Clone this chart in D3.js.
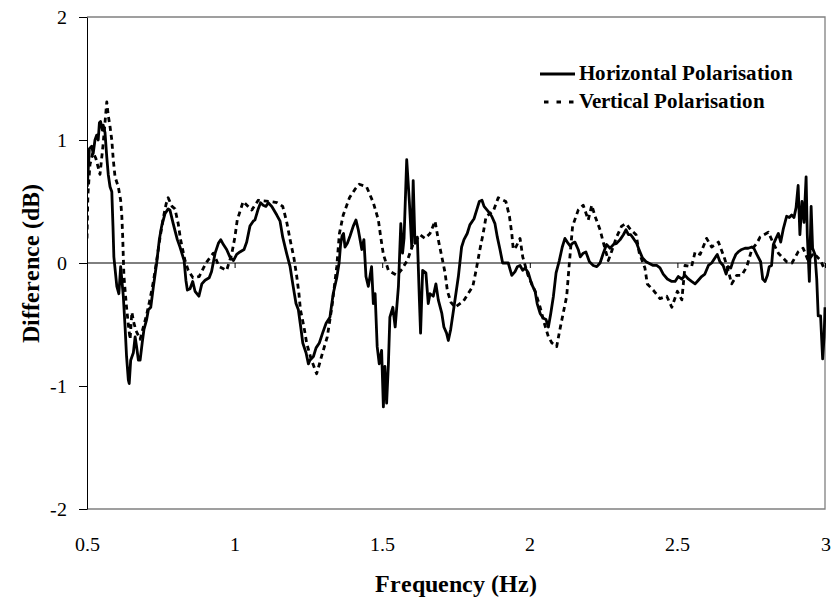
<!DOCTYPE html>
<html>
<head>
<meta charset="utf-8">
<script src="https://cdn.jsdelivr.net/npm/d3@7"></script>
<style>
  @font-face { font-family: "ChartSerif"; src: local("Liberation Serif"), local("LiberationSerif"), local("Times New Roman"); font-weight: 400; font-display: swap; }
  @font-face { font-family: "ChartSerif"; src: local("Liberation Serif Bold"), local("LiberationSerif-Bold"), local("Times New Roman Bold"); font-weight: 700; font-display: swap; }
  html, body { margin: 0; padding: 0; background: #fff; }
  svg { display: block; }
</style>
</head>
<body>
<svg id="chart" width="833" height="600"></svg>
<script>
// Frequency (Hz) and level difference (dB), horizontal polarisation
const freqH = [0.501,0.508,0.516,0.521,0.527,0.533,0.538,0.542,0.546,0.552,0.555,0.561,0.567,0.572,0.578,0.584,0.588,0.591,
  0.601,0.608,0.614,0.623,0.629,0.634,0.640,0.643,0.648,0.657,0.663,0.668,0.674,0.680,0.687,0.693,0.702,0.708,0.716,0.725,
  0.736,0.745,0.753,0.764,0.775,0.781,0.792,0.806,0.815,0.829,0.835,0.840,0.849,0.858,0.866,0.879,0.889,0.900,0.914,0.922,
  0.934,0.945,0.953,0.962,0.973,0.984,0.996,1.007,1.018,1.032,1.041,1.052,1.063,1.069,1.080,1.088,1.097,1.106,1.114,1.126,
  1.143,1.154,1.163,1.176,1.188,1.197,1.208,1.216,1.224,1.231,1.242,1.250,1.255,1.267,1.276,1.287,1.298,1.310,1.323,1.334,
  1.346,1.354,1.359,1.364,1.369,1.374,1.382,1.391,1.402,1.411,1.419,1.431,1.438,1.445,1.453,1.464,1.470,1.476,1.483,1.490,
  1.498,1.504,1.509,1.515,1.521,1.526,1.536,1.544,1.555,1.563,1.569,1.574,1.583,1.592,1.600,1.605,1.611,1.619,1.626,1.630,
  1.637,1.648,1.656,1.662,1.673,1.682,1.690,1.702,1.709,1.718,1.724,1.732,1.743,1.758,1.769,1.777,1.788,1.797,1.811,1.820,
  1.829,1.838,1.845,1.859,1.871,1.882,1.890,1.899,1.908,1.919,1.927,1.939,1.950,1.958,1.967,1.976,1.984,1.995,2.006,2.018,
  2.025,2.035,2.046,2.055,2.063,2.071,2.080,2.089,2.100,2.110,2.119,2.127,2.136,2.145,2.153,2.164,2.171,2.181,2.190,2.202,
  2.215,2.227,2.238,2.249,2.260,2.272,2.283,2.294,2.306,2.317,2.326,2.334,2.342,2.351,2.362,2.373,2.382,2.394,2.418,2.430,
  2.441,2.452,2.466,2.481,2.492,2.503,2.515,2.526,2.537,2.548,2.560,2.571,2.582,2.593,2.605,2.616,2.627,2.635,2.644,2.655,
  2.665,2.672,2.681,2.689,2.698,2.706,2.718,2.729,2.740,2.752,2.759,2.769,2.782,2.789,2.797,2.805,2.811,2.819,2.825,2.834,
  2.842,2.850,2.859,2.870,2.879,2.887,2.895,2.902,2.909,2.915,2.922,2.929,2.936,2.940,2.947,2.953,2.958,2.966,2.972,2.977,
  2.985,2.992,2.997,3.000];
const diffH = [0.62,0.93,0.95,0.89,1.00,1.04,1.00,1.14,1.15,1.08,1.12,1.06,0.86,0.72,0.62,0.58,0.30,0.05,
  -0.19,-0.25,-0.03,-0.27,-0.52,-0.76,-0.95,-0.98,-0.79,-0.73,-0.60,-0.68,-0.79,-0.79,-0.65,-0.54,-0.46,-0.38,-0.36,-0.19,
  0.00,0.19,0.30,0.40,0.44,0.43,0.32,0.19,0.13,0.02,-0.14,-0.22,-0.21,-0.15,-0.23,-0.27,-0.17,-0.14,-0.12,-0.07,
  0.08,0.16,0.19,0.15,0.11,0.05,0.02,0.07,0.09,0.11,0.17,0.30,0.34,0.35,0.44,0.49,0.47,0.46,0.49,0.46,
  0.39,0.34,0.21,0.08,-0.03,-0.17,-0.33,-0.38,-0.52,-0.65,-0.73,-0.82,-0.79,-0.76,-0.69,-0.65,-0.57,-0.49,-0.44,-0.25,
  -0.12,0.00,0.15,0.22,0.24,0.13,0.16,0.22,0.30,0.35,0.27,0.11,0.19,-0.11,-0.19,-0.03,-0.33,-0.25,-0.68,-0.82,
  -0.71,-1.17,-0.84,-1.14,-0.82,-0.44,-0.36,-0.52,-0.19,0.32,0.08,0.20,0.84,0.50,0.13,0.67,0.16,0.21,-0.30,-0.57,
  -0.06,-0.08,-0.33,-0.25,-0.27,-0.17,-0.30,-0.41,-0.52,-0.57,-0.63,-0.54,-0.36,-0.11,0.13,0.19,0.24,0.31,0.36,0.43,
  0.50,0.51,0.46,0.42,0.38,0.32,0.21,0.11,0.00,0.00,0.00,-0.10,-0.07,-0.03,-0.02,-0.06,-0.04,-0.08,-0.17,-0.23,
  -0.33,-0.41,-0.45,-0.46,-0.52,-0.41,-0.27,-0.08,0.02,0.13,0.20,0.17,0.14,0.16,0.17,0.11,0.05,0.08,0.09,0.01,
  -0.02,-0.03,0.00,0.08,0.15,0.12,0.15,0.16,0.19,0.23,0.27,0.23,0.23,0.20,0.16,0.09,0.04,0.01,-0.02,-0.02,
  -0.04,-0.09,-0.13,-0.15,-0.15,-0.11,-0.13,-0.10,-0.13,-0.15,-0.17,-0.14,-0.11,-0.09,-0.02,0.00,0.04,0.07,0.01,-0.02,
  -0.09,-0.03,-0.04,0.02,0.07,0.09,0.11,0.12,0.12,0.13,0.12,0.07,0.01,-0.13,-0.15,-0.10,-0.03,-0.02,0.15,0.20,
  0.24,0.17,0.28,0.38,0.37,0.39,0.37,0.45,0.63,0.23,0.50,0.33,0.70,0.23,-0.15,0.46,0.12,0.07,-0.13,-0.43,
  -0.43,-0.78,-0.60,-0.36];

// Frequency (Hz) and level difference (dB), vertical polarisation
const freqV = [0.500,0.503,0.510,0.520,0.530,0.544,0.554,0.567,0.572,0.578,0.584,0.589,0.595,0.606,0.614,0.618,0.621,0.623,
  0.625,0.630,0.634,0.640,0.646,0.652,0.658,0.666,0.680,0.691,0.702,0.713,0.725,0.736,0.747,0.757,0.768,0.775,0.788,0.798,
  0.809,0.817,0.832,0.843,0.859,0.880,0.903,0.928,0.948,0.973,0.990,1.001,1.009,1.029,1.058,1.080,1.120,1.144,1.163,1.176,
  1.188,1.201,1.210,1.218,1.223,1.235,1.244,1.259,1.278,1.298,1.314,1.330,1.346,1.355,1.368,1.389,1.408,1.422,1.447,1.470,
  1.487,1.495,1.504,1.521,1.549,1.567,1.585,1.604,1.628,1.645,1.662,1.679,1.690,1.702,1.713,1.721,1.733,1.747,1.775,1.807,
  1.818,1.831,1.842,1.852,1.876,1.893,1.919,1.931,1.939,1.944,1.953,1.967,1.976,1.994,2.018,2.035,2.048,2.063,2.075,2.091,
  2.102,2.113,2.125,2.130,2.134,2.145,2.164,2.181,2.198,2.210,2.221,2.238,2.251,2.266,2.278,2.292,2.311,2.326,2.342,2.360,
  2.371,2.390,2.398,2.418,2.441,2.464,2.481,2.500,2.515,2.526,2.548,2.560,2.577,2.599,2.616,2.639,2.658,2.671,2.684,2.701,
  2.718,2.735,2.752,2.769,2.780,2.808,2.825,2.842,2.870,2.888,2.909,2.926,2.943,2.962,2.985,3.000];
const diffV = [0.20,0.55,0.80,0.90,0.85,0.72,0.95,1.31,1.20,1.11,1.00,0.84,0.70,0.62,0.51,0.38,0.21,0.05,
  -0.10,-0.25,-0.36,-0.50,-0.62,-0.40,-0.48,-0.55,-0.62,-0.52,-0.42,-0.30,-0.15,0.02,0.20,0.35,0.48,0.53,0.46,0.44,
  0.32,0.19,0.02,-0.06,-0.12,-0.11,0.00,0.08,-0.03,-0.06,0.07,0.21,0.35,0.50,0.43,0.51,0.50,0.49,0.46,0.34,
  0.19,0.04,-0.10,-0.25,-0.38,-0.52,-0.65,-0.78,-0.90,-0.73,-0.60,-0.35,-0.03,0.24,0.39,0.53,0.60,0.64,0.62,0.49,
  0.35,0.21,0.07,-0.06,-0.10,-0.05,0.02,0.15,0.23,0.20,0.24,0.34,0.19,0.05,-0.08,-0.23,-0.32,-0.36,-0.31,-0.19,
  -0.06,0.11,0.24,0.38,0.42,0.53,0.50,0.38,0.24,0.11,0.13,0.20,0.05,-0.10,-0.23,-0.36,-0.48,-0.60,-0.65,-0.68,
  -0.54,-0.41,-0.27,-0.12,0.00,0.30,0.43,0.47,0.35,0.47,0.38,0.27,0.15,0.02,0.10,0.20,0.30,0.32,0.27,0.23,
  0.08,-0.04,-0.17,-0.22,-0.29,-0.27,-0.36,-0.23,-0.30,-0.02,-0.03,0.09,0.07,0.20,0.13,0.17,0.05,-0.05,-0.17,-0.10,
  -0.10,-0.03,0.11,0.16,0.21,0.25,0.16,0.08,0.01,0.00,0.09,0.12,0.02,0.08,0.02,-0.06];

const xTicks = [0.5, 1, 1.5, 2, 2.5, 3];
const yTicks = [-2, -1, 0, 1, 2];
const seriesNames = ["Horizontal Polarisation", "Vertical Polarisation"];

const FONT = "ChartSerif, 'Liberation Serif', 'Times New Roman', serif";
const svg = d3.select("#chart");
const plot = { left: 87, right: 825, top: 17, bottom: 509 };

const x = d3.scaleLinear().domain([0.5, 3]).range([plot.left, plot.right]);
const y = d3.scaleLinear().domain([-2, 2]).range([plot.bottom, plot.top]);

// Plot frame: grey top/right/bottom edges
svg.append("path")
  .attr("d", `M${plot.left},${plot.top}H${plot.right}V${plot.bottom}H${plot.left}`)
  .attr("fill", "none").attr("stroke", "#808080").attr("stroke-width", 1.3);

svg.append("defs").append("clipPath").attr("id", "plotClip")
  .append("rect")
  .attr("x", plot.left).attr("y", plot.top - 2)
  .attr("width", plot.right - plot.left + 1).attr("height", plot.bottom - plot.top + 4);

// Zero line with downward tick marks at each frequency tick
svg.append("line")
  .attr("x1", plot.left).attr("x2", plot.right)
  .attr("y1", y(0)).attr("y2", y(0))
  .attr("stroke", "#000").attr("stroke-width", 1);

const xTickAxis = d3.axisBottom(x).tickValues(xTicks).tickSize(5).tickSizeOuter(0).tickFormat("");
svg.append("g").attr("transform", `translate(0,${y(0)})`).call(xTickAxis)
  .call(g => g.select(".domain").remove())
  .call(g => g.selectAll(".tick line").attr("stroke", "#000"));

// Frequency labels below the frame
const xLabelAxis = d3.axisBottom(x).tickValues(xTicks).tickSize(0).tickPadding(28)
  .tickFormat(d3.format("~g"));
svg.append("g").attr("transform", `translate(0,${plot.bottom})`).call(xLabelAxis)
  .call(g => g.select(".domain").remove())
  .call(g => g.selectAll("text").attr("font-size", 20).style("font-family", FONT).attr("fill", "#000"));

// Left axis
const yAxis = d3.axisLeft(y).tickValues(yTicks).tickSize(8).tickSizeOuter(0).tickPadding(12)
  .tickFormat(d => d < 0 ? "-" + Math.abs(d) : String(d));
svg.append("g").attr("transform", `translate(${plot.left},0)`).call(yAxis)
  .call(g => g.select(".domain").attr("stroke", "#000"))
  .call(g => g.selectAll(".tick line").attr("stroke", "#000"))
  .call(g => g.selectAll("text").attr("font-size", 20).style("font-family", FONT).attr("fill", "#000"));

// Series lines
const line = d3.line().x(d => x(d[0])).y(d => y(d[1]));
const dataH = freqH.map((f, i) => [f, diffH[i]]);
const dataV = freqV.map((f, i) => [f, diffV[i]]);

const lines = svg.append("g").attr("clip-path", "url(#plotClip)");
lines.append("path").datum(dataV).attr("d", line)
  .attr("fill", "none").attr("stroke", "#000").attr("stroke-width", 2.8)
  .attr("stroke-dasharray", "5,4").attr("stroke-linejoin", "round");
lines.append("path").datum(dataH).attr("d", line)
  .attr("fill", "none").attr("stroke", "#000").attr("stroke-width", 2.8)
  .attr("stroke-linejoin", "round");

// Axis titles
svg.append("text")
  .attr("x", (plot.left + plot.right) / 2).attr("y", 592)
  .attr("text-anchor", "middle").attr("font-size", 23.5).attr("font-weight", "bold")
  .style("font-family", FONT)
  .text("Frequency (Hz)");
svg.append("text")
  .attr("transform", `translate(39,${(plot.top + plot.bottom) / 2}) rotate(-90)`)
  .attr("text-anchor", "middle").attr("font-size", 23.5).attr("font-weight", "bold")
  .style("font-family", FONT)
  .text("Difference (dB)");

// Legend
const legend = svg.append("g");
const legendRows = [
  { name: seriesNames[0], dash: null, y: 74 },
  { name: seriesNames[1], dash: "4.5,8", y: 102 }
];
legendRows.forEach(r => {
  legend.append("line")
    .attr("x1", r.dash ? 544 : 540).attr("x2", 575)
    .attr("y1", r.y).attr("y2", r.y)
    .attr("stroke", "#000").attr("stroke-width", 2.8)
    .attr("stroke-dasharray", r.dash);
  legend.append("text")
    .attr("x", 579).attr("y", r.y + 6)
    .attr("font-size", 21).attr("font-weight", "bold")
    .style("font-family", FONT)
    .text(r.name);
});
</script>
</body>
</html>
